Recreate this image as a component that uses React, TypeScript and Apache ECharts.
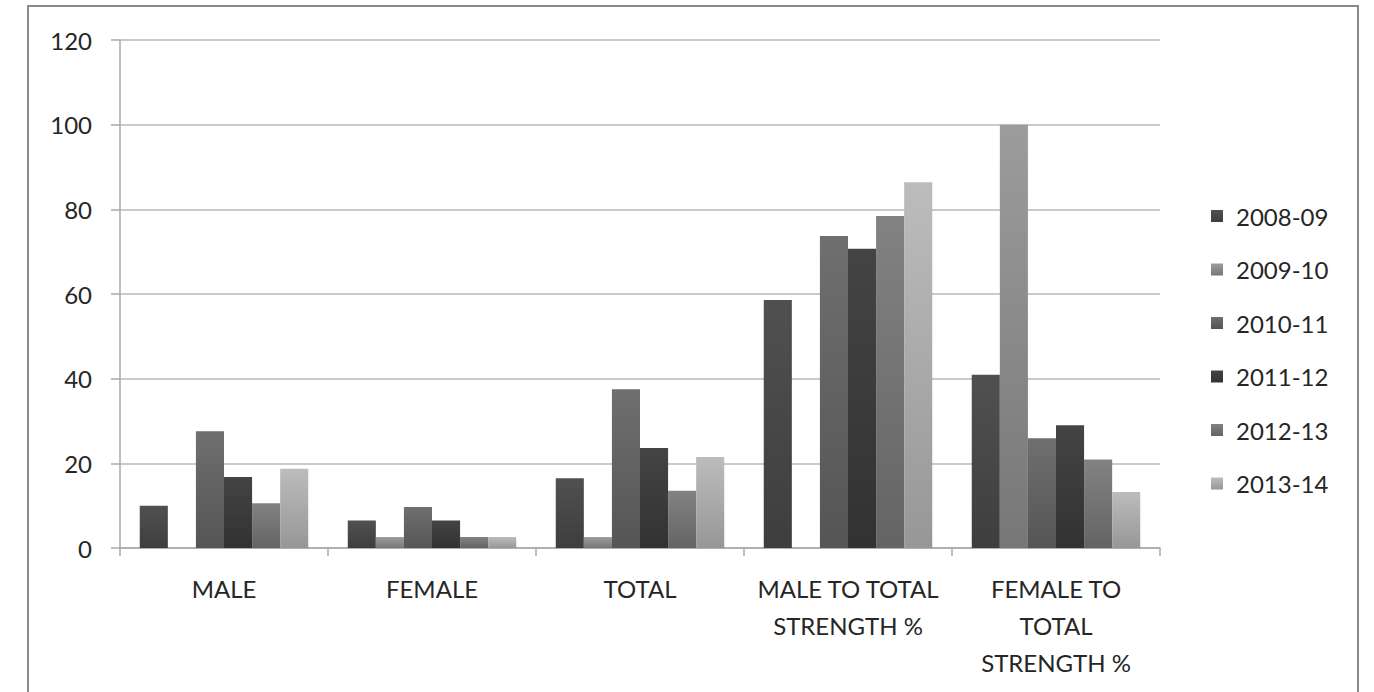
import React, { useEffect, useRef } from "react";
import * as echarts from "echarts";

const categories = ["MALE", "FEMALE", "TOTAL", "MALE TO TOTAL\nSTRENGTH %", "FEMALE TO\nTOTAL\nSTRENGTH %"];
const seriesNames = ["2008-09", "2009-10", "2010-11", "2011-12", "2012-13", "2013-14"];
const v2008 = [10, 6.5, 16.5, 58.6, 40.9];
const v2009 = [0, 2.6, 2.6, 0, 100];
const v2010 = [27.6, 9.7, 37.5, 73.7, 25.9];
const v2011 = [16.8, 6.5, 23.6, 70.7, 29];
const v2012 = [10.6, 2.6, 13.5, 78.4, 20.9];
const v2013 = [18.7, 2.6, 21.5, 86.4, 13.2];
const seriesValues = [v2008, v2009, v2010, v2011, v2012, v2013];
const yTicks = [0, 20, 40, 60, 80, 100, 120];

const colorTop = ["#505050", "#9c9c9c", "#6f6f6f", "#444444", "#828282", "#bcbcbc"];
const colorBottom = ["#3e3e3e", "#777777", "#555555", "#323232", "#646464", "#979797"];

export default function App() {
  const ref = useRef<HTMLDivElement>(null);
  useEffect(() => {
    const chart = echarts.init(ref.current!, undefined, { renderer: "svg" });
    const font = "Lato, 'Open Sans', sans-serif";
    chart.setOption({
      animation: false,
      backgroundColor: "#ffffff",
      graphic: [
        {
          type: "rect",
          shape: { x: 28, y: 6, width: 1330, height: 720 },
          style: { fill: "none", stroke: "#8a8a8a", lineWidth: 2 },
          z: -1,
        },
      ],
      grid: { left: 120, right: 214, top: 40, bottom: 144 },
      legend: {
        orient: "vertical",
        left: 1206,
        top: 199,
        itemWidth: 12,
        itemHeight: 12,
        itemGap: 29.5,
        icon: "rect",
        data: seriesNames,
        textStyle: { fontFamily: font, fontSize: 24, color: "#262626", lineHeight: 24, padding: [0, 0, 0, 8] },
      },
      xAxis: {
        type: "category",
        data: categories,
        axisLine: { lineStyle: { color: "#a8a8a8", width: 1.5 } },
        axisTick: { show: true, length: 8, lineStyle: { color: "#a8a8a8", width: 1.5 } },
        axisLabel: {
          fontFamily: font,
          fontSize: 24,
          color: "#262626",
          lineHeight: 37,
          margin: 22,
          interval: 0,
        },
      },
      yAxis: {
        type: "value",
        min: 0,
        max: 120,
        interval: 20,
        axisLine: { show: true, lineStyle: { color: "#a8a8a8", width: 1.5 } },
        axisTick: { show: true, length: 9, lineStyle: { color: "#a8a8a8", width: 1.5 } },
        splitLine: { lineStyle: { color: "#b8b8b8", width: 1.5 } },
        axisLabel: {
          fontFamily: font,
          fontSize: 24,
          color: "#262626",
          margin: 28,
          formatter: (v: number) => (yTicks.includes(v) ? String(v) : ""),
        },
      },
      series: seriesNames.map((name, i) => ({
        name,
        type: "bar",
        data: seriesValues[i],
        barGap: "0%",
        barCategoryGap: "19%",
        itemStyle: {
          color: new echarts.graphic.LinearGradient(0, 0, 0, 1, [
            { offset: 0, color: colorTop[i] },
            { offset: 1, color: colorBottom[i] },
          ]),
        },
      })),
    });
    return () => chart.dispose();
  }, []);
  return <div ref={ref} style={{ position: "fixed", left: 0, top: 0, width: 1374, height: 692 }} />;
}
